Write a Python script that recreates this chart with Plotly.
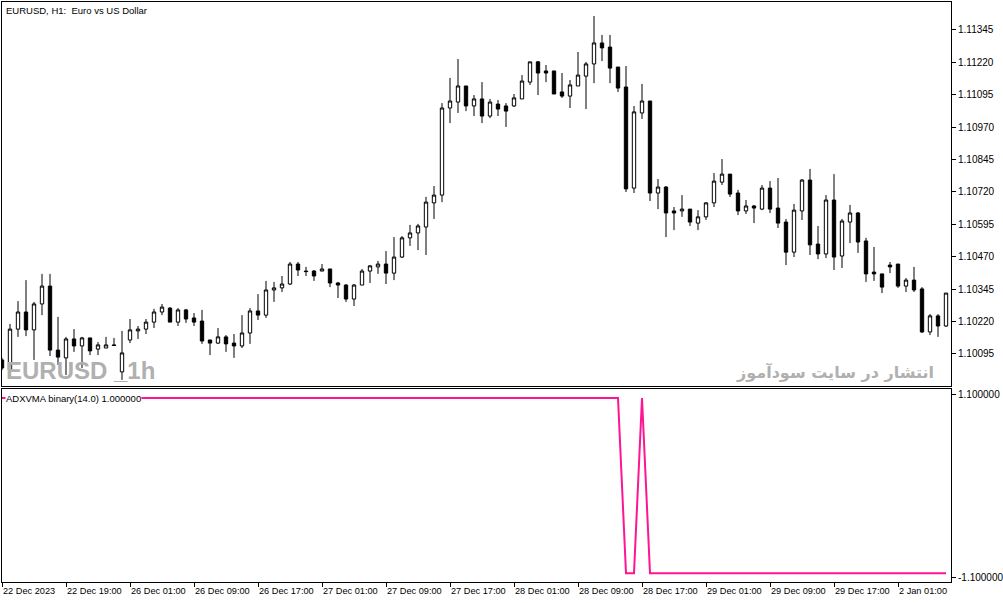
import plotly.graph_objects as go

# EURUSD H1 candles, 22 Dec 2023 11:00 -> 2 Jan 2024
opens = [
    1.10072, 1.10033, 1.10191, 1.10257, 1.10188, 1.10288, 1.10357, 1.10110, 1.10080, 1.10153,
    1.10126, 1.10157, 1.10114, 1.10118, 1.10130, 1.10026, 1.10149, 1.10184, 1.10191, 1.10218,
    1.10257, 1.10272, 1.10218, 1.10265, 1.10234, 1.10222, 1.10149, 1.10137, 1.10161, 1.10137,
    1.10126, 1.10176, 1.10261, 1.10245, 1.10342, 1.10350, 1.10365, 1.10442, 1.10415, 1.10415,
    1.10415, 1.10423, 1.10369, 1.10361, 1.10307, 1.10361, 1.10415, 1.10431, 1.10442, 1.10407,
    1.10469, 1.10543, 1.10562, 1.10585, 1.10678, 1.10708, 1.11044, 1.11067, 1.11129, 1.11052,
    1.11079, 1.11013, 1.11059, 1.11052, 1.11052, 1.11079, 1.11144, 1.11222, 1.11187, 1.11187,
    1.11106, 1.11090, 1.11129, 1.11167, 1.11214, 1.11295, 1.11279, 1.11202, 1.11125, 1.10735,
    1.11025, 1.11071, 1.10716, 1.10739, 1.10647, 1.10647, 1.10654, 1.10600, 1.10624, 1.10678,
    1.10758, 1.10789, 1.10716, 1.10647, 1.10666, 1.10654, 1.10735, 1.10658, 1.10604, 1.10488,
    1.10647, 1.10766, 1.10519, 1.10481, 1.10689, 1.10473, 1.10604, 1.10639, 1.10531, 1.10411,
    1.10404, 1.10438, 1.10442, 1.10357, 1.10380, 1.10346, 1.10180, 1.10242, 1.10203,
]
highs = [
    1.10080, 1.10211, 1.10299, 1.10380, 1.10296, 1.10404, 1.10404, 1.10238, 1.10161, 1.10191,
    1.10161, 1.10157, 1.10141, 1.10161, 1.10157, 1.10184, 1.10230, 1.10203, 1.10230, 1.10269,
    1.10288, 1.10276, 1.10272, 1.10269, 1.10253, 1.10265, 1.10149, 1.10195, 1.10168, 1.10172,
    1.10245, 1.10272, 1.10326, 1.10377, 1.10373, 1.10396, 1.10450, 1.10450, 1.10431, 1.10419,
    1.10442, 1.10423, 1.10373, 1.10365, 1.10365, 1.10423, 1.10438, 1.10454, 1.10492, 1.10546,
    1.10550, 1.10593, 1.10597, 1.10701, 1.10743, 1.11063, 1.11160, 1.11233, 1.11129, 1.11094,
    1.11144, 1.11079, 1.11075, 1.11063, 1.11098, 1.11171, 1.11222, 1.11225, 1.11210, 1.11187,
    1.11179, 1.11152, 1.11260, 1.11222, 1.11399, 1.11326, 1.11326, 1.11202, 1.11206, 1.11052,
    1.11137, 1.11071, 1.10770, 1.10743, 1.10662, 1.10708, 1.10654, 1.10650, 1.10681, 1.10793,
    1.10847, 1.10789, 1.10728, 1.10689, 1.10670, 1.10747, 1.10762, 1.10774, 1.10616, 1.10674,
    1.10770, 1.10809, 1.10589, 1.10708, 1.10789, 1.10616, 1.10670, 1.10643, 1.10543, 1.10508,
    1.10404, 1.10450, 1.10442, 1.10388, 1.10431, 1.10353, 1.10249, 1.10249, 1.10330,
]
lows = [
    1.10033, 1.10002, 1.10161, 1.10164, 1.10072, 1.10245, 1.10087, 1.10053, 1.10014, 1.10103,
    1.10041, 1.10091, 1.10091, 1.10118, 1.10126, 1.09995, 1.10137, 1.10153, 1.10172, 1.10195,
    1.10245, 1.10218, 1.10203, 1.10215, 1.10203, 1.10134, 1.10091, 1.10134, 1.10103, 1.10080,
    1.10118, 1.10134, 1.10226, 1.10234, 1.10296, 1.10334, 1.10361, 1.10396, 1.10396, 1.10377,
    1.10415, 1.10353, 1.10311, 1.10296, 1.10280, 1.10361, 1.10369, 1.10404, 1.10365, 1.10380,
    1.10465, 1.10512, 1.10496, 1.10477, 1.10616, 1.10681, 1.10986, 1.11025, 1.11032, 1.11013,
    1.10986, 1.11005, 1.11013, 1.10971, 1.11048, 1.11079, 1.11133, 1.11094, 1.11144, 1.11098,
    1.11083, 1.11044, 1.11129, 1.11040, 1.11140, 1.11225, 1.11140, 1.11106, 1.10720, 1.10716,
    1.11002, 1.10685, 1.10654, 1.10546, 1.10573, 1.10624, 1.10589, 1.10573, 1.10612, 1.10662,
    1.10747, 1.10701, 1.10631, 1.10635, 1.10600, 1.10650, 1.10639, 1.10581, 1.10438, 1.10469,
    1.10612, 1.10477, 1.10461, 1.10465, 1.10419, 1.10427, 1.10523, 1.10485, 1.10373, 1.10377,
    1.10330, 1.10407, 1.10350, 1.10334, 1.10334, 1.10176, 1.10168, 1.10161, 1.10199,
]
closes = [
    1.10041, 1.10191, 1.10257, 1.10188, 1.10288, 1.10357, 1.10110, 1.10083, 1.10153, 1.10126,
    1.10157, 1.10107, 1.10130, 1.10130, 1.10128, 1.10099, 1.10188, 1.10191, 1.10218, 1.10257,
    1.10276, 1.10218, 1.10265, 1.10230, 1.10218, 1.10145, 1.10137, 1.10161, 1.10134, 1.10126,
    1.10176, 1.10261, 1.10245, 1.10342, 1.10350, 1.10365, 1.10442, 1.10419, 1.10413, 1.10396,
    1.10423, 1.10369, 1.10361, 1.10307, 1.10361, 1.10415, 1.10435, 1.10442, 1.10407, 1.10469,
    1.10543, 1.10562, 1.10589, 1.10681, 1.10708, 1.11044, 1.11071, 1.11129, 1.11052, 1.11079,
    1.11013, 1.11067, 1.11040, 1.11032, 1.11083, 1.11148, 1.11222, 1.11179, 1.11179, 1.11098,
    1.11090, 1.11133, 1.11171, 1.11214, 1.11295, 1.11276, 1.11198, 1.11121, 1.10732, 1.11029,
    1.11071, 1.10716, 1.10739, 1.10639, 1.10639, 1.10654, 1.10604, 1.10624, 1.10678, 1.10762,
    1.10789, 1.10712, 1.10647, 1.10666, 1.10658, 1.10735, 1.10654, 1.10600, 1.10488, 1.10650,
    1.10766, 1.10516, 1.10481, 1.10689, 1.10469, 1.10608, 1.10639, 1.10527, 1.10404, 1.10404,
    1.10353, 1.10431, 1.10357, 1.10380, 1.10342, 1.10180, 1.10242, 1.10203, 1.10330,
]

# ADXVMA binary(14) indicator, one value per bar
adxvma = [
    1, 1, 1, 1, 1, 1, 1, 1, 1, 1, 1, 1, 1, 1, 1, 1, 1, 1, 1, 1,
    1, 1, 1, 1, 1, 1, 1, 1, 1, 1, 1, 1, 1, 1, 1, 1, 1, 1, 1, 1,
    1, 1, 1, 1, 1, 1, 1, 1, 1, 1, 1, 1, 1, 1, 1, 1, 1, 1, 1, 1,
    1, 1, 1, 1, 1, 1, 1, 1, 1, 1, 1, 1, 1, 1, 1, 1, 1, 1, -1, -1,
    1, -1, -1, -1, -1, -1, -1, -1, -1, -1, -1, -1, -1, -1, -1, -1, -1, -1, -1, -1,
    -1, -1, -1, -1, -1, -1, -1, -1, -1, -1, -1, -1, -1, -1, -1, -1, -1, -1, -1,
]

price_ticks = [1.11345, 1.11220, 1.11095, 1.10970, 1.10845, 1.10720,
               1.10595, 1.10470, 1.10345, 1.10220, 1.10095]
time_tick_bars = [0, 8, 16, 24, 32, 40, 48, 56, 64, 72, 80, 88, 96, 104, 112]
time_tick_labels = ["22 Dec 2023", "22 Dec 19:00", "26 Dec 01:00", "26 Dec 09:00",
                    "26 Dec 17:00", "27 Dec 01:00", "27 Dec 09:00", "27 Dec 17:00",
                    "28 Dec 01:00", "28 Dec 09:00", "28 Dec 17:00", "29 Dec 01:00",
                    "29 Dec 09:00", "29 Dec 17:00", "2 Jan 01:00"]

bars = list(range(len(opens)))
font = "Liberation Sans, Arial, sans-serif"

fig = go.Figure()
fig.add_trace(go.Candlestick(
    x=bars, open=opens, high=highs, low=lows, close=closes,
    increasing=dict(fillcolor="white", line=dict(color="black", width=1)),
    decreasing=dict(fillcolor="black", line=dict(color="black", width=1)),
    whiskerwidth=0, xaxis="x", yaxis="y", showlegend=False,
))
fig.add_trace(go.Scatter(
    x=bars, y=adxvma, mode="lines", line=dict(color="#ff1493", width=2),
    xaxis="x2", yaxis="y2", showlegend=False,
))

axis_common = dict(showgrid=False, zeroline=False, showline=True, mirror=True,
                   linecolor="black", linewidth=1, automargin=False)

fig.update_layout(
    width=1003, height=603,
    margin=dict(l=2, r=52, t=2, b=21),
    paper_bgcolor="white", plot_bgcolor="white",
    boxgap=0.4,
    font=dict(family=font, size=10, color="black"),
    xaxis=dict(**axis_common, domain=[0, 1], anchor="y", range=[0, 118.625],
               showticklabels=False, ticks="", rangeslider=dict(visible=False)),
    yaxis=dict(**axis_common, domain=[0.33793, 1], anchor="x", side="right",
               range=[1.099715, 1.114530], tickvals=price_ticks,
               ticktext=[f"{p:.5f}" for p in price_ticks],
               ticks="outside", ticklen=4, tickcolor="black"),
    xaxis2=dict(**axis_common, domain=[0, 1], anchor="y2", matches="x",
                tickvals=time_tick_bars, ticktext=time_tick_labels, tickangle=0,
                ticks="outside", ticklen=4, tickcolor="black",
                tickfont=dict(size=9.2),
                ticklabelposition="outside right"),
    yaxis2=dict(**axis_common, domain=[0, 0.33224], anchor="x2", side="right",
                range=[-1.1, 1.1], tickvals=[1.045, -1.045],
                ticktext=["1.100000", "-1.100000"],
                ticks="outside", ticklen=4, tickcolor="black"),
    annotations=[
        dict(xref="paper", yref="paper", x=0, y=1, xanchor="left", yanchor="top",
             xshift=2, yshift=-1, showarrow=False,
             text="EURUSD, H1:  Euro vs US Dollar", font=dict(size=9.5)),
        dict(xref="paper", yref="y2", x=0, y=1, xanchor="left", yanchor="middle",
             xshift=3, showarrow=False, bgcolor="white", borderpad=0,
             text="ADXVMA binary(14.0) 1.000000", font=dict(size=9.5)),
        dict(xref="paper", yref="paper", x=0, y=0.33793, xanchor="left", yanchor="bottom",
             xshift=2, yshift=0, showarrow=False,
             text="<b>EURUSD _1h</b>",
             font=dict(family="Liberation Sans", size=24, color="#b0b0b0")),
        dict(xref="paper", yref="paper", x=1, y=0.33793, xanchor="right", yanchor="bottom",
             xshift=-15, yshift=2, showarrow=False,
             text="<b>انتشار در سایت سودآموز</b>",
             font=dict(family="DejaVu Sans", size=16, color="#b0b0b0")),
    ],
)

fig.write_html("out.html", config={"displayModeBar": False},
               post_script="document.body.style.margin='0';")
